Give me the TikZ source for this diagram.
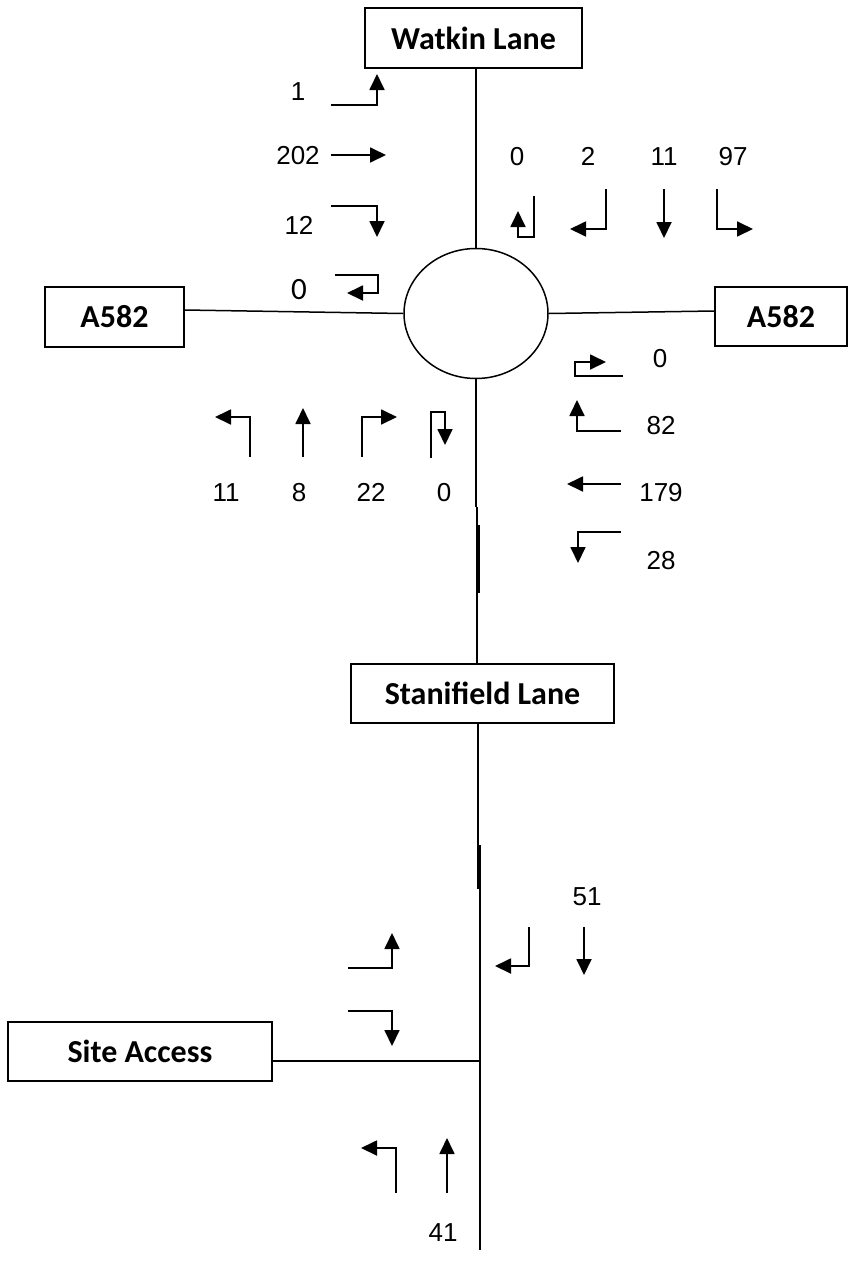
\documentclass[tikz,border=0pt]{standalone}
\usepackage{fontspec}
\newfontfamily\arialf{Liberation Sans}
\newfontfamily\calf{Carlito}
\usetikzlibrary{arrows.meta,shapes.geometric}
\begin{document}
\begin{tikzpicture}[x=1pt,y=-1pt,
  roadbox/.style={draw,line width=1.6pt,inner sep=0pt,font=\calf\bfseries\fontsize{32}{36}\selectfont},
  num/.style={inner sep=0pt,text height=18.6pt,text depth=0pt,font=\arialf\fontsize{26}{30}\selectfont},
  calnum/.style={inner sep=0pt,text height=19pt,text depth=0pt,font=\calf\fontsize{31}{35}\selectfont},
  road/.style={line width=1.5pt},
  turn/.style={line width=1.8pt,-{Triangle[length=16pt,width=15pt]}}]
\useasboundingbox (0,0) rectangle (848,1277);
% boxes
\node[roadbox,minimum width=217pt,minimum height=60pt] (wat) at (473.5,38) {Watkin Lane};
\node[roadbox,minimum width=139pt,minimum height=60pt] (la) at (114.5,317) {A582};
\node[roadbox,minimum width=132pt,minimum height=59pt] (ra) at (781,316.5) {A582};
\node[roadbox,minimum width=263pt,minimum height=59pt] (st) at (482.5,693.5) {Stanifield Lane};
\node[roadbox,minimum width=264pt,minimum height=59pt] (sa) at (140,1051.5) {Site Access};
\node[ellipse,draw,line width=1.5pt,minimum width=144pt,minimum height=130pt,inner sep=0pt] (circ) at (476,313.5) {};
% roads
\coordinate (b1) at (476,507);
\coordinate (b2) at (477,507);
\coordinate (t1) at (478,525);
\coordinate (t2) at (478,593);
\coordinate (s1) at (478,889);
\coordinate (m1) at (480,845);
\coordinate (m2) at (480,1250);
\draw[road] (circ.north) -- (circ.north |- wat.south);
\draw[road] ([yshift=7pt]la.east) -- (circ.west);
\draw[road] (circ.east) -- ([yshift=5.5pt]ra.west);
\draw[road] (circ.south) -- (b1);
\draw[road] (b2) -- (b2 |- st.north);
\draw[line width=3pt] (t1) -- (t2);
\draw[road] (s1 |- st.south) -- (s1);
\draw[line width=2pt] (m1) -- (m2);
\draw[road] ([yshift=-9.5pt]sa.east) -- ([yshift=-9.5pt]sa.east -| m1);
% top-left approach
\node[num] (n1) at (298,91) {1};
\draw[turn] (331,105) -- (377,105) -- (377,74);
\node[num] (n202) at (298,155) {202};
\draw[turn] (331,155) -- (386,155);
\node[num] (n12) at (299,225) {12};
\draw[turn] (331,206) -- (377,206) -- (377,237);
\node[calnum] (n0a) at (299,290) {0};
\draw[turn] (335,275) -- (378,275) -- (378,293) -- (347,293);
% top-right approach
\node[num] (n0b) at (517,156) {0};
\node[num] (n2) at (588,156) {2};
\node[num] (n11a) at (664,156) {11};
\node[num] (n97) at (733,156) {97};
\draw[turn] (534,196) -- (534,237) -- (518,237) -- (518,211);
\draw[turn] (606,189) -- (606,229) -- (570,229);
\draw[turn] (664,189) -- (664,238);
\draw[turn] (717,189) -- (717,229) -- (753,229);
% right approach
\node[num] (n0c) at (660,358) {0};
\draw[turn] (623,376) -- (575,376) -- (575,362) -- (606,362);
\node[num] (n82) at (661,425) {82};
\draw[turn] (621,431) -- (577,431) -- (577,400);
\node[num] (n179) at (661,492) {179};
\draw[turn] (621,484) -- (567,484);
\node[num] (n28) at (661,560) {28};
\draw[turn] (621,532) -- (578,532) -- (578,563);
% bottom approach
\node[num] (n11b) at (226,492) {11};
\node[num] (n8) at (299,492) {8};
\node[num] (n22) at (371,492) {22};
\node[num] (n0d) at (444,492) {0};
\draw[turn] (250,457) -- (250,417) -- (215,417);
\draw[turn] (303,457) -- (303,408);
\draw[turn] (362,457) -- (362,417) -- (397,417);
\draw[turn] (431,458) -- (431,412) -- (445,412) -- (445,445);
% site access junction
\node[num] (n51) at (587,896) {51};
\draw[turn] (529,927) -- (529,966) -- (495,966);
\draw[turn] (584,927) -- (584,975);
\draw[turn] (348,968) -- (392,968) -- (392,933);
\draw[turn] (348,1011) -- (392,1011) -- (392,1046);
\draw[turn] (396,1193) -- (396,1148) -- (361,1148);
\draw[turn] (447,1193) -- (447,1138);
\node[num] (n41) at (443,1232) {41};
\end{tikzpicture}
\end{document}
